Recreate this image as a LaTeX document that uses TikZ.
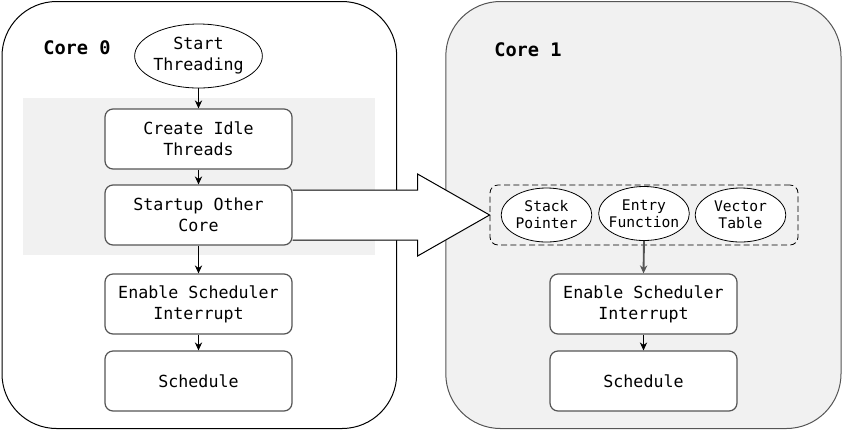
\documentclass[tikz,border=0pt]{standalone}
\usepackage{fontspec}
\newfontfamily\mono{DejaVu Sans Mono}
\usetikzlibrary{shapes.geometric,arrows.meta,calc}
\pgfdeclarelayer{back}
\pgfdeclarelayer{mid}
\pgfsetlayers{back,mid,main}
\definecolor{panel}{HTML}{F1F1F1}
\definecolor{edge}{HTML}{555555}
\tikzset{
  px/.style={x=0.75pt,y=-0.75pt},
  core/.style={draw=black,line width=0.75pt,rounded corners=41pt},
  corelabel/.style={font=\mono\bfseries\fontsize{14}{16}\selectfont,anchor=west,inner sep=0pt},
  stepbox/.style={draw=edge,line width=0.9pt,fill=white,rounded corners=6pt,
    minimum width=140.25pt,minimum height=45pt,align=center,inner sep=0pt,
    font=\mono\fontsize{12.5}{15.75}\selectfont},
  startell/.style={ellipse,draw=black,line width=0.6pt,fill=white,
    minimum width=95pt,minimum height=48pt,align=center,inner sep=0pt,
    font=\mono\fontsize{12.5}{15.75}\selectfont},
  regell/.style={ellipse,draw=black,line width=0.6pt,fill=white,
    minimum width=68pt,minimum height=40.5pt,align=center,inner ysep=0pt,inner xsep=-7pt,
    font=\mono\fontsize{11}{12.75}\selectfont},
  group/.style={draw=black,line width=0.6pt,dash pattern=on 4.5pt off 2.5pt,
    rounded corners=6pt,minimum width=231pt,minimum height=45pt,inner sep=0pt},
  flow/.style={draw=black,line width=0.75pt,-{Stealth[length=6pt,width=5.5pt]}},
  bigarrow/.style={draw=black,line width=0.75pt,fill=white,line join=miter},
}
\begin{document}
\begin{tikzpicture}[px]
\useasboundingbox (0,0) rectangle (843,430);

% containers and the shaded band behind the first steps
\begin{pgfonlayer}{back}
  \draw[core,fill=white] (2,1.5) rectangle (396.7,428.5);
  \fill[panel] (23,98) rectangle (375,255);
  \draw[core,draw=edge,fill=panel] (445.8,1.5) rectangle (841,428.5);
\end{pgfonlayer}

\node[corelabel] (c0) at (43,48) {Core 0};
\node[corelabel] (c1) at (494,50) {Core 1};

% Core 0 flow
\node[startell] (start) at (198.5,56) {Start\\Threading};
\node[stepbox] (idle) at (198.5,139) {Create Idle\\Threads};
\node[stepbox] (other) at (198.5,215) {Startup Other\\Core};
\node[stepbox] (irq0) at (198.5,304) {Enable Scheduler\\Interrupt};
\node[stepbox] (sch0) at (198.5,381) {Schedule};

\draw[flow] (start) -- (idle);
\draw[flow] (idle) -- (other);
\draw[flow] (other) -- (irq0);
\draw[flow] (irq0) -- (sch0);

% Core 1 flow
\node[group] (grp) at (644,215) {};
\node[regell] (sp) at (546.5,215) {Stack\\Pointer};
\node[regell] (entry) at (644,213.5) {Entry\\Function};
\node[regell] (vt) at (740.5,215) {Vector\\Table};
\node[stepbox] (irq1) at (643.5,304) {Enable Scheduler\\Interrupt};
\node[stepbox] (sch1) at (643.5,381) {Schedule};

\draw[flow,draw=edge,line width=1.4pt] (entry.south) -- (irq1.north);
\draw[flow] (irq1) -- (sch1);

% hand-over arrow from Core 0 to Core 1
\begin{pgfonlayer}{mid}
  \path (grp.west) coordinate (tip);
  \fill[white] ($(other.east)+(0,-25)$) -- ($(tip)+(-72,-25)$) -- ($(tip)+(-72,-41)$)
    -- (tip) -- ($(tip)+(-72,41)$) -- ($(tip)+(-72,25)$) -- ($(other.east)+(0,25)$) -- cycle;
  \draw[bigarrow] ($(other.east)+(0,-25)$) -- ($(tip)+(-72,-25)$) -- ($(tip)+(-72,-41)$)
    -- (tip) -- ($(tip)+(-72,41)$) -- ($(tip)+(-72,25)$) -- ($(other.east)+(0,25)$);
\end{pgfonlayer}
\end{tikzpicture}
\end{document}
